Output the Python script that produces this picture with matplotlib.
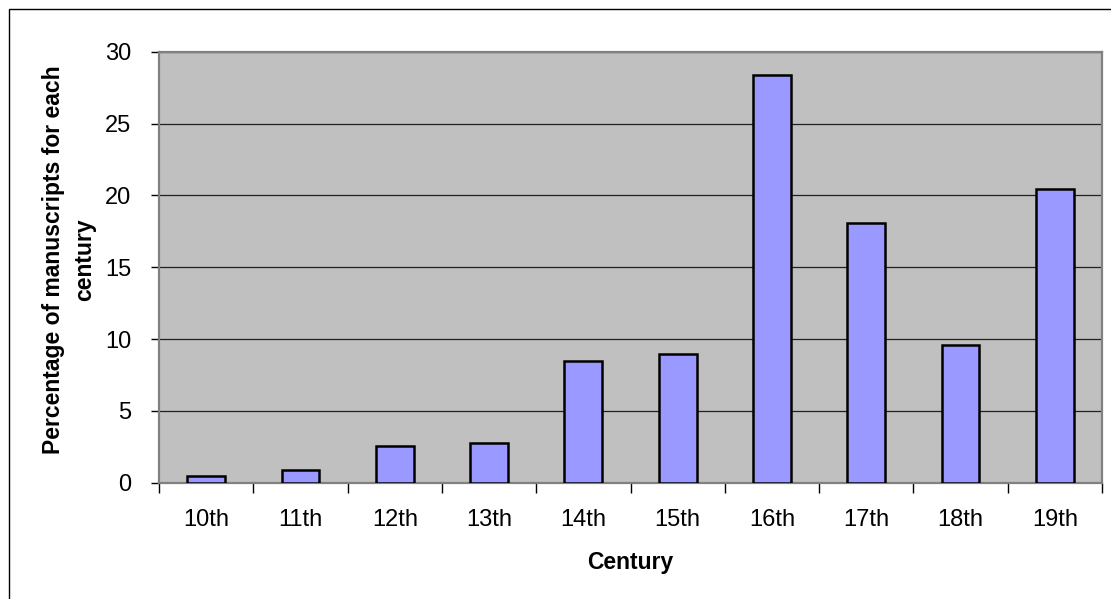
import matplotlib
matplotlib.use("Agg")
import matplotlib.pyplot as plt
from matplotlib.patches import Rectangle
import numpy as np

centuries = ["10th", "11th", "12th", "13th", "14th", "15th", "16th", "17th", "18th", "19th"]
percentages = [0.47, 0.88, 2.57, 2.78, 8.47, 8.97, 28.37, 18.05, 9.56, 20.44]
y_ticks = [0, 5, 10, 15, 20, 25, 30]

plt.rcParams["font.family"] = ["Liberation Sans", "DejaVu Sans"]

W, H = 1111, 599
fig = plt.figure(figsize=(W / 100, H / 100), dpi=100)
fig.patch.set_facecolor("white")

# outer chart frame
fig.patches.append(Rectangle((9 / W, -0.01), 1.2, (H - 9) / H + 0.01,
                             transform=fig.transFigure, fill=False,
                             edgecolor="black", linewidth=1.0))

left, right = 159 / W, 1102 / W
bottom, top = (H - 482.7) / H, (H - 51.7) / H
ax = fig.add_axes([left, bottom, right - left, top - bottom])
ax.set_facecolor("#C0C0C0")

x = np.arange(len(centuries))
ax.bar(x, percentages, width=0.4, color="#9999FF", edgecolor="black",
       linewidth=1.8, zorder=3)

ax.set_xlim(-0.5, len(centuries) - 0.5)
ax.set_ylim(0, 30)
ax.set_yticks(y_ticks)
ax.set_yticklabels([str(v) for v in y_ticks], fontsize=17)
ax.yaxis.grid(True, color="#202020", linewidth=0.9, zorder=1)
ax.set_axisbelow(True)

# category labels centred, ticks on category boundaries
ax.set_xticks(x)
ax.set_xticklabels(centuries, fontsize=17)
ax.tick_params(axis="x", which="major", length=0, pad=19)
ax.set_xticks(np.arange(-0.5, len(centuries)), minor=True)
ax.tick_params(axis="x", which="minor", length=7, width=1, color="black")
ax.tick_params(axis="y", length=6, width=1, color="black", pad=14)

for side in ["left", "top", "right", "bottom"]:
    ax.spines[side].set_color("#808080")
    ax.spines[side].set_linewidth(1.6)

ax.set_xlabel("Century", fontsize=16.5, fontweight="bold", labelpad=14)
ax.set_ylabel("Percentage of manuscripts for each\ncentury", fontsize=16.5,
              fontweight="bold", linespacing=1.45)
ax.yaxis.set_label_coords(-0.067, 0.517)

fig.savefig("out.png", dpi=100)
